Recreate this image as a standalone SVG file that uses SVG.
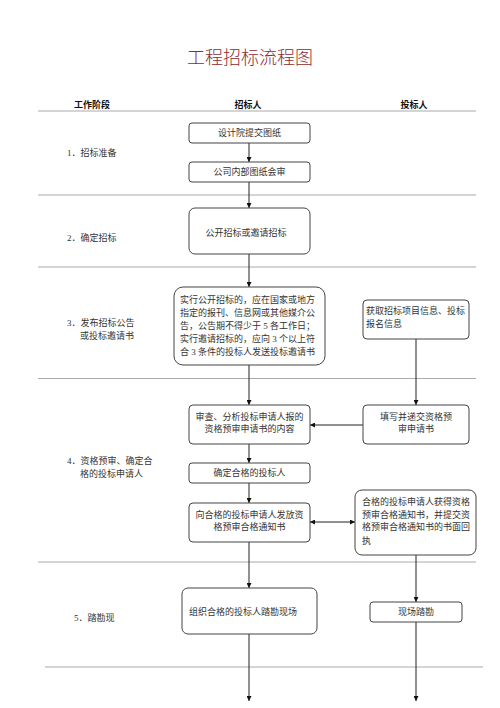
<svg xmlns="http://www.w3.org/2000/svg" width="500" height="708" viewBox="0 0 500 708">
<defs>
<marker id="ah" viewBox="0 0 10 10" refX="10" refY="5" markerWidth="5" markerHeight="5" orient="auto-start-reverse" markerUnits="userSpaceOnUse">
<path d="M0,0 L10,5 L0,10 z" fill="#111"/>
</marker>
<style>
text{font-family:"Liberation Serif","Noto Sans CJK SC",serif;font-size:9px;fill:#333}
.title{font-size:18px;fill:#8e2b30;text-anchor:middle;font-weight:300}
.hdr{font-weight:bold;fill:#111;text-anchor:middle}
.c{text-anchor:middle}
.box{fill:#fff;stroke:#444;stroke-width:1}
.sep{stroke:#aaa;stroke-width:1}
.con{stroke:#222;stroke-width:1;fill:none;marker-end:url(#ah)}
</style>
</defs>
<rect width="500" height="708" fill="#fff"/>
<text class="title" x="250" y="64">工程招标流程图</text>
<g id="header">
<text class="hdr" x="92" y="108">工作阶段</text>
<text class="hdr" x="248" y="108">招标人</text>
<text class="hdr" x="414" y="108">投标人</text>
</g>
<g id="separators">
<line class="sep" x1="38" y1="111" x2="476" y2="111" stroke="#888"/>
<line class="sep" x1="38" y1="195" x2="476" y2="195"/>
<line class="sep" x1="38" y1="267" x2="476" y2="267"/>
<line class="sep" x1="38" y1="378.5" x2="476" y2="378.5"/>
<line class="sep" x1="38" y1="562" x2="476" y2="562"/>
<line class="sep" x1="45" y1="667" x2="483" y2="667"/>
</g>
<g id="stages">
<text x="67" y="156">1．招标准备</text>
<text x="67" y="241">2．确定招标</text>
<text x="67" y="326">3．发布招标公告</text>
<text x="80" y="339">或投标邀请书</text>
<text x="67" y="464">4．资格预审、确定合</text>
<text x="80" y="477">格的投标申请人</text>
<text x="74" y="621">5．踏勘现</text>
</g>
<g id="connectors">
<line class="con" x1="249" y1="143" x2="249" y2="162"/>
<line class="con" x1="249" y1="182" x2="249" y2="208"/>
<line class="con" x1="249" y1="254" x2="249" y2="287"/>
<line class="con" x1="249" y1="365" x2="249" y2="405"/>
<line class="con" x1="416" y1="339" x2="416" y2="405"/>
<line class="con" x1="363" y1="425" x2="310" y2="425"/>
<line class="con" x1="249" y1="444" x2="249" y2="463"/>
<line class="con" x1="249" y1="483" x2="249" y2="503"/>
<line class="con" x1="310" y1="522" x2="355" y2="522" marker-start="url(#ah)"/>
<line class="con" x1="249" y1="542" x2="249" y2="588"/>
<line class="con" x1="416" y1="555" x2="416" y2="602"/>
<line class="con" x1="249" y1="634" x2="249" y2="701"/>
<line class="con" x1="416" y1="622" x2="416" y2="701"/>
</g>
<g id="n1"><rect class="box" x="189" y="123" width="121" height="20" rx="3"/><text class="c" x="249.5" y="136">设计院提交图纸</text></g>
<g id="n2"><rect class="box" x="189" y="162" width="121" height="20" rx="3"/><text class="c" x="249.5" y="175">公司内部图纸会审</text></g>
<g id="n3"><rect class="box" x="189" y="208" width="121" height="46" rx="6"/><text class="c" x="246" y="236">公开招标或邀请招标</text></g>
<g id="n4"><rect class="box" x="174" y="287" width="151" height="78" rx="9"/>
<text x="180" y="303">实行公开招标的，应在国家或地方</text>
<text x="180" y="316">指定的报刊、信息网或其他媒介公</text>
<text x="180" y="329">告，公告期不得少于 5 各工作日；</text>
<text x="180" y="342">实行邀请招标的，应向 3 个以上符</text>
<text x="180" y="355">合 3 条件的投标人发送投标邀请书</text></g>
<g id="n5"><rect class="box" x="363" y="300" width="106" height="39" rx="4"/>
<text x="366" y="314">获取招标项目信息、投标</text>
<text x="366" y="327">报名信息</text></g>
<g id="n6"><rect class="box" x="189" y="405" width="121" height="39" rx="4"/>
<text class="c" x="249.5" y="420">审查、分析投标申请人报的</text>
<text class="c" x="249.5" y="432">资格预审申请书的内容</text></g>
<g id="n7"><rect class="box" x="363" y="405" width="106" height="39" rx="4"/>
<text class="c" x="416" y="420">填写并递交资格预</text>
<text class="c" x="416" y="432">审申请书</text></g>
<g id="n8"><rect class="box" x="189" y="463" width="121" height="20" rx="3"/><text class="c" x="249.5" y="476">确定合格的投标人</text></g>
<g id="n9"><rect class="box" x="189" y="503" width="121" height="39" rx="4"/>
<text class="c" x="249.5" y="518">向合格的投标申请人发放资</text>
<text class="c" x="249.5" y="530">格预审合格通知书</text></g>
<g id="n10"><rect class="box" x="355" y="490" width="121" height="65" rx="7"/>
<text x="362" y="505">合格的投标申请人获得资格</text>
<text x="362" y="518">预审合格通知书，并提交资</text>
<text x="362" y="530">格预审合格通知书的书面回</text>
<text x="362" y="544">执</text></g>
<g id="n11"><rect class="box" x="182" y="588" width="135" height="46" rx="6"/><text x="189" y="615">组织合格的投标人踏勘现场</text></g>
<g id="n12"><rect class="box" x="370" y="602" width="92" height="20" rx="3"/><text class="c" x="416" y="615">现场踏勘</text></g>
</svg>
